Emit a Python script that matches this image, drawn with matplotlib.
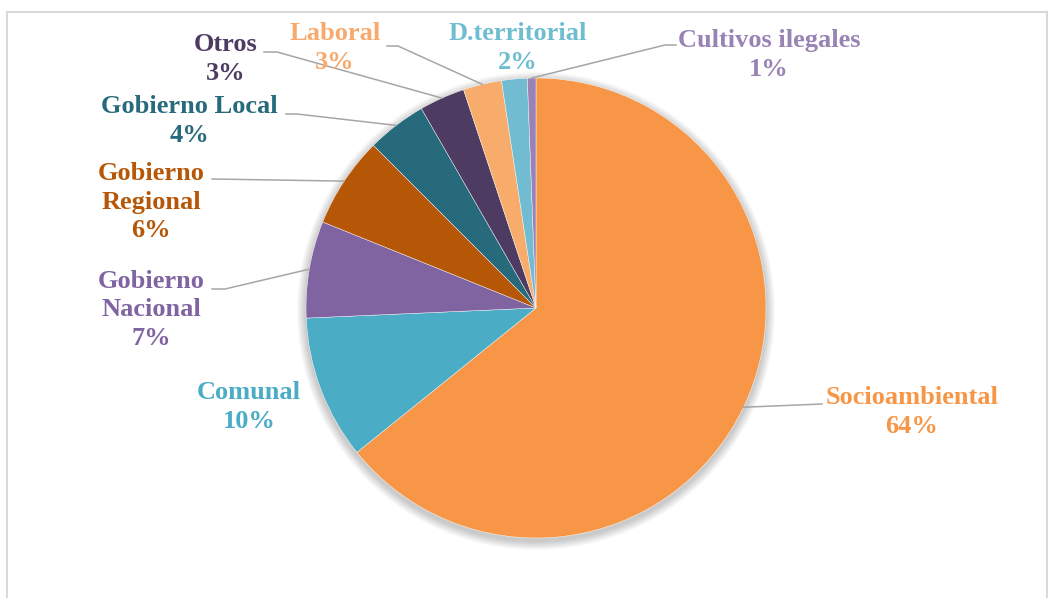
import numpy as np
import matplotlib.pyplot as plt
from matplotlib.patches import Circle, Rectangle

# conflict categories and their share of cases
categories = ['Socioambiental', 'Comunal', 'Gobierno\nNacional', 'Gobierno\nRegional',
              'Gobierno Local', 'Otros', 'Laboral', 'D.territorial', 'Cultivos ilegales']
shares = [64.2, 10.1, 6.8, 6.4, 4.2, 3.2, 2.7, 1.8, 0.6]
colors = ['#F79646', '#4BACC6', '#8064A2', '#B65708', '#276A7C',
          '#4D3B62', '#F8AC6C', '#72BCD1', '#9983B5']
text_colors = ['#F79646', '#4BACC6', '#8064A2', '#B65708', '#276A7C',
               '#4D3B62', '#F9A96B', '#6FBDD1', '#9983B5']

W, H = 1053, 598
fig = plt.figure(figsize=(W / 100, H / 100), dpi=100)
ax = fig.add_axes([0, 0, 1, 1])


def px(x, y):
    # convert top-left pixel coordinates to axes data coordinates
    return x, H - y


cx, cy = px(536, 308)
R = 230

# chart frame
ax.add_patch(Rectangle(px(7, 600), 1040, 588, fill=False, edgecolor='#D9D9D9', lw=1.5, zorder=0))

# soft drop shadow under the pie
for k in range(1, 10):
    ax.add_patch(Circle((cx, cy - 3), R + k, facecolor='black', edgecolor='none',
                        alpha=0.025, zorder=1))

wedges, _ = ax.pie(shares, colors=colors, startangle=90, counterclock=False,
                   center=(cx, cy), radius=R, frame=True,
                   wedgeprops=dict(linewidth=0.3, edgecolor='white', zorder=2))
ax.set_xlim(0, W)
ax.set_ylim(0, H)
ax.set_aspect('equal')
ax.axis('off')

# label block centres and leader line bends (pixels)
label_pos = [(912, 412), (249, 407), (151, 310), (151, 202), (189, 121),
             (226, 59), (335, 48), (518, 48), (769, 55)]
leaders = {
    0: [(822, 404)],
    2: [(225, 289), (212, 289)],
    3: [(212, 179)],
    4: [(297, 114), (286, 114)],
    5: [(277, 52), (264, 52)],
    6: [(398, 46), (387, 46)],
    8: [(665, 45), (676, 45)],
}

total = sum(shares)
cum = np.cumsum([0] + shares)
for i, w in enumerate(wedges):
    mid = (cum[i] + cum[i + 1]) / 2 / total * 360
    th = np.deg2rad(90 - mid)
    ax_x, ax_y = cx + R * np.cos(th), cy + R * np.sin(th)
    if i in leaders:
        pts = [(ax_x, ax_y)] + [px(*p) for p in leaders[i]]
        xs, ys = zip(*pts)
        ax.plot(xs, ys, color='#A6A6A6', lw=1.1, zorder=3)
    pct = shares[i] / total * 100
    tx, ty = px(*label_pos[i])
    ax.text(tx, ty, f'{categories[i]}\n{pct:.0f}%', ha='center', va='center',
            color=text_colors[i], fontsize=19, fontweight='bold',
            family='Liberation Serif', linespacing=1.33, zorder=4)

fig.savefig('out.png', dpi=100)
